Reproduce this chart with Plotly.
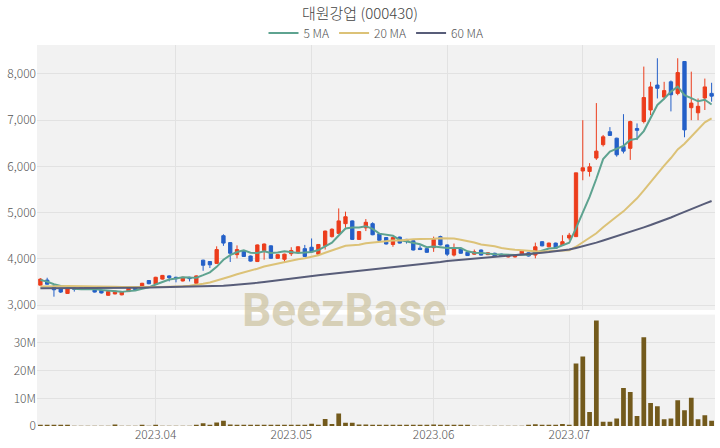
import pandas as pd
import plotly.graph_objects as go

# ---------------- data ----------------
holidays = ["2023-05-01", "2023-05-05", "2023-05-29", "2023-06-06"]
dates = [d.strftime("%Y-%m-%d") for d in pd.bdate_range("2023-03-09", "2023-08-01")
         if d.strftime("%Y-%m-%d") not in holidays]

open_ = [3430,3540,3410,3360,3250,3370,3400,3370,3340,3320,
         3210,3240,3220,3290,3390,3370,3530,3450,3560,3630,
         3600,3520,3600,3470,3970,3940,3900,4500,4350,4090,
         4170,4060,3940,4180,4280,4010,3990,4110,4150,4220,
         4250,4100,4280,4480,4550,4760,4820,4420,4670,4760,
         4540,4460,4310,4470,4420,4390,4230,4220,4240,4480,
         4300,4080,4225,4140,4100,4190,4090,4120,4100,4040,
         4040,4090,4130,4080,4370,4260,4340,4300,4450,4480,
         5900,5890,6180,6470,6750,6610,6430,6390,6820,6970,
         7220,7760,7500,7830,7580,8270,7270,7160,7480,7580]
high = [3580,3590,3440,3370,3370,3380,3410,3380,3350,3330,
        3300,3310,3300,3370,3400,3480,3540,3610,3650,3640,
        3610,3610,3610,3640,3980,3950,4270,4530,4360,4290,
        4190,4070,4310,4330,4290,4100,4110,4250,4270,4300,
        4440,4320,4610,4660,5090,5020,4830,4600,4860,4790,
        4550,4470,4470,4480,4430,4400,4290,4230,4480,4500,
        4310,4330,4235,4150,4200,4200,4140,4130,4110,4090,
        4090,4180,4140,4350,4380,4350,4350,4510,4560,5860,
        7000,6070,7370,6680,6850,6620,7130,6990,6930,8160,
        7830,8340,7830,7860,8340,8280,8050,7470,7900,7810]
low = [3420,3440,3180,3260,3240,3290,3380,3340,3270,3250,
       3200,3230,3210,3280,3320,3360,3450,3440,3550,3510,
       3490,3510,3510,3460,3740,3800,3890,4280,3930,4010,
       4040,3940,3930,3980,4000,4000,3910,4060,4140,4040,
       4140,4060,4200,4460,4540,4670,4410,4410,4600,4510,
       4390,4310,4260,4330,4330,4180,4190,4130,4150,4290,
       4060,4050,4110,4060,4090,4070,4080,4050,4040,4030,
       4030,4080,4050,4010,4270,4250,4220,4290,4400,4470,
       5700,5780,6140,6430,6660,6210,6280,6140,6570,6930,
       7110,7470,7450,7190,7540,6630,7000,7000,7220,7400]
close = [3560,3450,3330,3280,3360,3340,3390,3350,3280,3260,
         3290,3300,3290,3360,3330,3470,3460,3600,3640,3590,
         3570,3600,3570,3630,3860,3870,4200,4340,4120,4200,
         4050,3950,4300,4320,4010,4090,4100,4180,4260,4050,
         4150,4310,4600,4640,4820,4910,4420,4590,4790,4520,
         4400,4320,4460,4340,4380,4190,4200,4140,4420,4300,
         4100,4220,4120,4070,4150,4080,4130,4060,4050,4080,
         4080,4170,4060,4260,4280,4340,4230,4370,4510,5860,
         5970,5990,6330,6640,6670,6250,6330,6970,6780,7490,
         7720,7690,7640,7550,8030,6790,7370,7300,7720,7520]
# closes of the 19 sessions before the window (estimated from the MA lines)
prior_close = [3310,3300,3290,3320,3340,3330,3350,3360,3340,3370,
               3380,3390,3400,3410,3400,3620,3610,3470,3440]
volume_m = [0.2,0.2,0.3,0.2,0.2,0.1,0.1,0.1,0.1,0.1,
            0.1,0.5,0.1,0.1,0.1,0.2,0.1,0.2,0.1,0.1,
            0.1,0.1,0.1,0.2,1.0,0.3,1.3,1.9,0.5,0.3,
            0.2,0.2,0.4,0.4,0.3,0.2,0.3,0.2,0.2,0.3,
            0.8,0.3,2.5,0.7,4.5,1.2,1.2,0.5,0.5,0.3,
            0.2,0.2,0.3,0.2,0.2,0.2,0.2,0.3,0.5,0.3,
            0.2,0.2,0.2,0.2,0.1,0.1,0.1,0.1,0.1,0.1,
            0.1,0.1,0.2,0.6,0.3,0.2,0.2,0.7,0.3,22.6,
            25.1,5.1,38.1,1.5,1.5,2.7,13.7,12.3,3.6,32.1,
            8.3,7.1,2.4,2.7,9.3,5.7,10.2,2.4,3.9,1.9]
ma60 = [3360,3360,3360,3360,3360,3360,3362,3362,3364,3364,
        3365,3366,3368,3370,3372,3375,3377,3380,3381,3382,
        3385,3388,3391,3395,3400,3405,3410,3418,3430,3440,
        3450,3465,3480,3500,3520,3540,3560,3578,3595,3612,
        3630,3645,3660,3675,3690,3708,3725,3742,3760,3775,
        3790,3805,3820,3835,3850,3865,3880,3895,3910,3930,
        3950,3962,3975,3988,4000,4012,4025,4038,4050,4062,
        4075,4088,4100,4115,4130,4145,4160,4180,4200,4235,
        4270,4310,4350,4395,4440,4487,4535,4583,4630,4680,
        4730,4780,4830,4893,4955,5018,5080,5137,5193,5250]
price_grid_dates = ["2023-04-06", "2023-05-08", "2023-06-07", "2023-07-05"]
tick_dates = ["2023-04-03", "2023-05-02", "2023-06-02", "2023-07-03"]
tick_labels = ["2023.04", "2023.05", "2023.06", "2023.07"]
price_ticks = [3000, 4000, 5000, 6000, 7000, 8000]
volume_ticks = [0, 10e6, 20e6, 30e6]

# ---------------- derived ----------------
full = pd.Series(prior_close + close, dtype=float)
ma5 = full.rolling(5).mean().iloc[len(prior_close):].tolist()
ma20 = full.rolling(20).mean().iloc[len(prior_close):].tolist()
volume = [v * 1e6 for v in volume_m]

UP = "#ec3d1c"
DOWN = "#2460c8"
FONT = "Noto Sans CJK KR"

fig = go.Figure()
fig.add_trace(go.Candlestick(
    x=dates, open=open_, high=high, low=low, close=close,
    increasing=dict(line=dict(color=UP, width=1), fillcolor=UP),
    decreasing=dict(line=dict(color=DOWN, width=1), fillcolor=DOWN),
    showlegend=False, xaxis="x", yaxis="y"))
fig.add_trace(go.Scatter(x=dates, y=ma5, mode="lines", name="5 MA",
                         line=dict(color="#5ea390", width=2), xaxis="x", yaxis="y"))
fig.add_trace(go.Scatter(x=dates, y=ma20, mode="lines", name="20 MA",
                         line=dict(color="#dcc277", width=2), xaxis="x", yaxis="y"))
fig.add_trace(go.Scatter(x=dates, y=ma60, mode="lines", name="60 MA",
                         line=dict(color="#585d79", width=2), xaxis="x", yaxis="y"))
fig.add_trace(go.Bar(x=dates, y=volume, marker=dict(color="#735a1c", line=dict(width=0)),
                     showlegend=False, xaxis="x2", yaxis="y2"))

rb = [dict(bounds=["sat", "mon"]), dict(values=holidays)]
xr = ["2023-03-08 12:00", "2023-08-01 12:00"]
grid = "#e2e2e2"
tickfont = dict(family=FONT, size=12, color="#555555", weight=300)

fig.update_layout(
    width=720, height=448,
    margin=dict(l=37, r=5, t=45, b=22, autoexpand=False),
    paper_bgcolor="white", plot_bgcolor="#f2f2f2",
    font=dict(family=FONT, color="#444444"),
    title=dict(text="대원강업 (000430)", x=0.5, xanchor="center",
               y=1 - 14 / 448, yref="container", yanchor="middle",
               font=dict(family=FONT, size=15, color="#444444", weight=300)),
    legend=dict(orientation="h", x=0.5, xanchor="center",
                y=1 - 33 / 448, yref="container", yanchor="middle",
                font=dict(family=FONT, size=12, color="#555555", weight=300),
                bgcolor="rgba(0,0,0,0)", itemwidth=30),
    showlegend=True,
    bargap=0.3,
    xaxis=dict(domain=[0, 1], anchor="y", type="date", range=xr, rangebreaks=rb,
               rangeslider=dict(visible=False), showticklabels=False,
               tickvals=price_grid_dates, showgrid=True, gridcolor=grid, zeroline=False),
    yaxis=dict(domain=[0.3045, 1], anchor="x", range=[2892, 8627], tickvals=price_ticks,
               tickformat=",", showgrid=True, gridcolor=grid, zeroline=False,
               tickfont=tickfont),
    xaxis2=dict(domain=[0, 1], anchor="y2", type="date", range=xr, rangebreaks=rb,
                matches="x", tickvals=tick_dates, ticktext=tick_labels,
                showgrid=True, gridcolor=grid, zeroline=False, tickfont=tickfont),
    yaxis2=dict(domain=[0, 0.2923], anchor="x2", range=[0, 40.25e6], tickvals=volume_ticks,
                tickformat="~s", showgrid=True, gridcolor=grid, zeroline=False,
                tickfont=tickfont),
    annotations=[dict(text="<b>BeezBase</b>", x=0.454, y=0.3045, xref="paper", yref="paper",
                      xanchor="center", yanchor="middle", showarrow=False,
                      font=dict(family="Roboto", size=46, color="rgba(205,195,160,0.72)"))],
)

fig.write_html("out.html", config={"displayModeBar": False},
               post_script="document.body.style.margin='0';")
